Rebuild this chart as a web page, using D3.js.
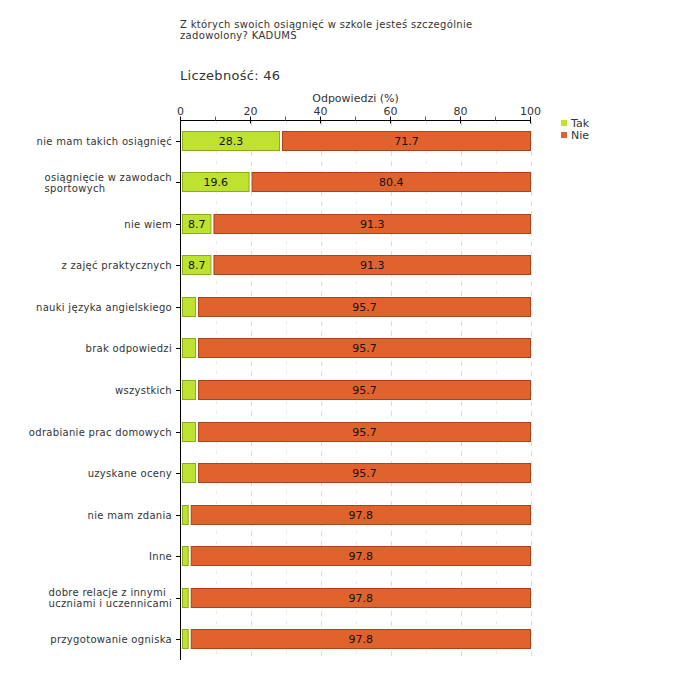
<!DOCTYPE html>
<html><head><meta charset="utf-8">
<script src="https://cdn.jsdelivr.net/npm/d3@7"></script>
<style>body{margin:0;background:#fff}svg text{font-family:"DejaVu Sans",Verdana,sans-serif;fill:#333}</style>
</head><body><svg id="c" width="680" height="680"></svg>
<script>
const categories = [
  ["nie mam takich osiągnięć"],
  ["osiągnięcie w zawodach","sportowych"],
  ["nie wiem"],
  ["z zajęć praktycznych"],
  ["nauki języka angielskiego"],
  ["brak odpowiedzi"],
  ["wszystkich"],
  ["odrabianie prac domowych"],
  ["uzyskane oceny"],
  ["nie mam zdania"],
  ["Inne"],
  ["dobre relacje z innymi","uczniami i uczennicami"],
  ["przygotowanie ogniska"]
];
const tak = [28.3,19.6,8.7,8.7,4.3,4.3,4.3,4.3,4.3,2.2,2.2,2.2,2.2];
const nie = [71.7,80.4,91.3,91.3,95.7,95.7,95.7,95.7,95.7,97.8,97.8,97.8,97.8];
const xTicks = [0,20,40,60,80,100];
const minorTicks = [10,30,50,70,90];
const seriesNames = ["Tak","Nie"];
const colors = {Tak:{fill:"#bfe12f",stroke:"#8cab1c"},Nie:{fill:"#e0622d",stroke:"#a9431b"}};

const svg = d3.select("#c");
const x = d3.scaleLinear().domain([0,100]).range([180.5,530.5]);
const keys = categories.map((c,i)=>i);
const y = d3.scaleBand().domain(keys).range([120,660]).paddingInner(0.52).paddingOuter(0.26);

// title
svg.append("text").attr("x",180).attr("y",28).style("font-size","10px").style("letter-spacing","0.33px").text("Z których swoich osiągnięć w szkole jesteś szczególnie");
svg.append("text").attr("x",180).attr("y",39).style("font-size","10px").style("letter-spacing","0.33px").text("zadowolony? KADUMS");
svg.append("text").attr("x",180).attr("y",80).style("font-size","13px").style("letter-spacing","0.3px").text("Liczebność: 46");
svg.append("text").attr("x",x(50)).attr("y",102).attr("text-anchor","middle").style("font-size","11px").text("Odpowiedzi (%)");

// grid
svg.append("g").selectAll("line").data(xTicks.slice(1)).join("line")
  .attr("x1",d=>Math.round(x(d))+0.5).attr("x2",d=>Math.round(x(d))+0.5).attr("y1",121).attr("y2",660)
  .attr("stroke","#dddddd").attr("stroke-dasharray","5,5");
svg.append("g").selectAll("line").data(minorTicks).join("line")
  .attr("x1",d=>Math.round(x(d))+0.5).attr("x2",d=>Math.round(x(d))+0.5).attr("y1",121).attr("y2",660)
  .attr("stroke","#f6e6e0").attr("stroke-dasharray","3,7");

// top axis
const ax = svg.append("g").attr("transform","translate(0,120.5)");
ax.append("line").attr("x1",x(0)).attr("x2",x(100)).attr("stroke","#000");
ax.selectAll("line.mj").data(xTicks).join("line").attr("class","mj")
  .attr("x1",d=>x(d)).attr("x2",d=>x(d)).attr("y1",-4).attr("y2",3).attr("stroke","#000");
ax.selectAll("line.mn").data(minorTicks).join("line").attr("class","mn")
  .attr("x1",d=>x(d)).attr("x2",d=>x(d)).attr("y1",-4).attr("y2",0).attr("stroke","#cc3333");
ax.selectAll("text").data(xTicks).join("text")
  .attr("x",d=>x(d)).attr("y",-6).attr("text-anchor","middle").style("font-size","11px").text(d=>d);

// left axis
svg.append("line").attr("x1",180.5).attr("x2",180.5).attr("y1",120).attr("y2",660).attr("stroke","#000");
svg.append("g").selectAll("line").data(keys).join("line")
  .attr("x1",176).attr("x2",180).attr("y1",d=>Math.round(y(d)+y.bandwidth()/2)+0.5).attr("y2",d=>Math.round(y(d)+y.bandwidth()/2)+0.5)
  .attr("stroke","#000");

// category labels
keys.forEach(i=>{
  const lines = categories[i];
  const cy = y(i)+y.bandwidth()/2;
  const g = svg.append("g");
  const n = lines.length;
  const ts = lines.map((l,j)=>g.append("text").attr("y",cy+4+(j-(n-1)/2)*11)
    .style("font-size","10px").style("letter-spacing","0.3px").text(l));
  const w = d3.max(ts,t=>t.node().getComputedTextLength());
  ts.forEach(t=>t.attr("x",172-w));
});

// bars
const bars = svg.append("g");
keys.forEach(i=>{
  const y0 = Math.round(y(i))+0.5, h = Math.round(y.bandwidth())-1;
  const xt0 = x(0)+2, xt1 = x(tak[i]);
  bars.append("rect").attr("x",xt0).attr("y",y0).attr("width",xt1-xt0).attr("height",h)
    .attr("fill",colors.Tak.fill).attr("stroke",colors.Tak.stroke);
  const xn0 = xt1+3, xn1 = x(100);
  bars.append("rect").attr("x",xn0).attr("y",y0).attr("width",xn1-xn0).attr("height",h)
    .attr("fill",colors.Nie.fill).attr("stroke",colors.Nie.stroke);
  if (tak[i] >= 8) bars.append("text").attr("x",(xt0+xt1)/2).attr("y",y0+h/2+4).attr("text-anchor","middle")
    .style("font-size","11px").style("fill","#111").text(tak[i].toFixed(1));
  bars.append("text").attr("x",(xn0+xn1)/2).attr("y",y0+h/2+4).attr("text-anchor","middle")
    .style("font-size","11px").style("fill","#111").text(nie[i].toFixed(1));
});

// legend
const lg = svg.append("g");
seriesNames.forEach((s,j)=>{
  lg.append("rect").attr("x",561).attr("y",120+j*12).attr("width",6).attr("height",6).attr("fill",colors[s].fill);
  lg.append("text").attr("x",571).attr("y",127+j*12).style("font-size","11px").text(s);
});
</script></body></html>
